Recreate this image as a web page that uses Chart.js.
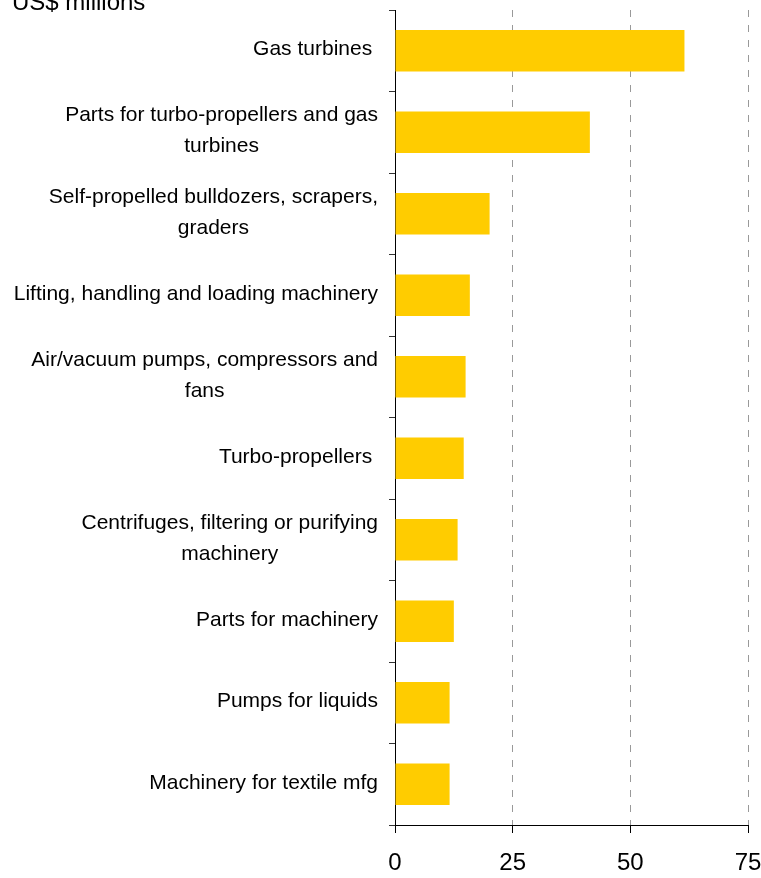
<!DOCTYPE html>
<html>
<head>
<meta charset="utf-8">
<script src="https://cdn.jsdelivr.net/npm/chart.js@4/dist/chart.umd.min.js"></script>
<style>
  html, body { margin: 0; padding: 0; background: #fff; }
  canvas { display: block; }
</style>
</head>
<body>
<canvas id="chart" width="761" height="878"></canvas>
<script>
// Top machinery items, US$ millions
const categories = [
  ['Gas turbines '],
  ['Parts for turbo-propellers and gas', 'turbines'],
  ['Self-propelled bulldozers, scrapers,', 'graders'],
  ['Lifting, handling and loading machinery'],
  ['Air/vacuum pumps, compressors and', 'fans'],
  ['Turbo-propellers '],
  ['Centrifuges, filtering or purifying', 'machinery'],
  ['Parts for machinery'],
  ['Pumps for liquids'],
  ['Machinery for textile mfg']
];
const values = [61.5, 41.4, 20.1, 15.9, 15.0, 14.6, 13.3, 12.5, 11.6, 11.6];
const xTicks = [0, 25, 50, 75];
const unitLabel = 'US$ millions';

const FONT = '"Liberation Sans", Arial, Helvetica, sans-serif';

// Category labels: block right-aligned against the axis, wrapped lines centred in the block
const categoryLabels = {
  id: 'categoryLabels',
  afterDraw(chart) {
    const ctx = chart.ctx;
    const yScale = chart.scales.y;
    const right = yScale.right - 17;
    ctx.save();
    ctx.font = '21px ' + FONT;
    ctx.fillStyle = '#000';
    ctx.textAlign = 'center';
    ctx.textBaseline = 'middle';
    categories.forEach((lines, i) => {
      const w = Math.max(...lines.map(l => ctx.measureText(l).width));
      const cx = right - w / 2;
      const cy = yScale.getPixelForValue(i);
      lines.forEach((line, j) => {
        ctx.fillText(line, cx, cy + (j - (lines.length - 1) / 2) * 31 - 1.5);
      });
    });
    // unit caption in the top-left corner
    ctx.textAlign = 'left';
    ctx.textBaseline = 'alphabetic';
    ctx.font = '24px ' + FONT;
    ctx.fillText(unitLabel, 12, 10);
    ctx.restore();
  }
};

new Chart(document.getElementById('chart'), {
  type: 'bar',
  data: {
    labels: categories.map(l => l.join(' ')),
    datasets: [{
      data: values,
      backgroundColor: '#FFCC00',
      borderWidth: 0,
      barPercentage: 0.51,
      categoryPercentage: 1
    }]
  },
  options: {
    indexAxis: 'y',
    responsive: false,
    animation: false,
    devicePixelRatio: 1,
    layout: { padding: { top: 10, right: 13, left: 0, bottom: 0 } },
    plugins: {
      legend: { display: false },
      tooltip: { enabled: false },
      title: { display: false }
    },
    scales: {
      x: {
        type: 'linear',
        min: xTicks[0],
        max: xTicks[xTicks.length - 1],
        afterBuildTicks: s => { s.ticks = xTicks.map(v => ({ value: v })); },
        ticks: {
          font: { family: FONT, size: 24 },
          color: '#000',
          padding: 16,
          maxRotation: 0
        },
        grid: {
          color: c => (c.tick && c.tick.value === 0) ? 'rgba(0,0,0,0)' : '#999',
          tickColor: '#000',
          tickLength: 8,
          lineWidth: 1
        },
        border: { display: true, color: '#000', width: 1, dash: [7, 8] },
        afterFit: s => { s.height = 53; s.paddingLeft = 0; s.paddingRight = 0; }
      },
      y: {
        ticks: { display: false },
        grid: {
          drawOnChartArea: false,
          drawTicks: true,
          tickLength: 6,
          color: '#333',
          offset: true
        },
        border: { display: true, color: '#000', width: 1 },
        afterFit: s => { s.width = 395; s.paddingTop = 0; s.paddingBottom = 0; }
      }
    }
  },
  plugins: [categoryLabels]
});
</script>
</body>
</html>
